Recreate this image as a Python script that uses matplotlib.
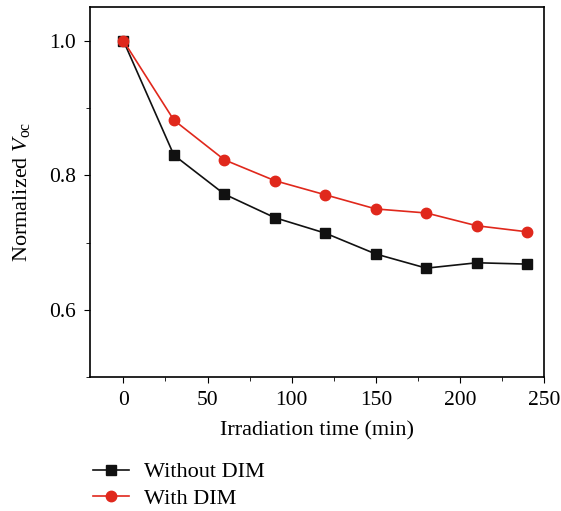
import matplotlib
matplotlib.use('Agg')
import matplotlib.pyplot as plt
from matplotlib.ticker import MultipleLocator

plt.rcParams['font.family'] = 'Liberation Serif'
plt.rcParams['mathtext.fontset'] = 'custom'
plt.rcParams['mathtext.rm'] = 'Liberation Serif'
plt.rcParams['mathtext.it'] = 'Liberation Serif:italic'

# data
time_min = [0, 30, 60, 90, 120, 150, 180, 210, 240]
without_dim = [1.0, 0.830, 0.772, 0.737, 0.714, 0.683, 0.662, 0.670, 0.668]
with_dim = [1.0, 0.882, 0.823, 0.792, 0.771, 0.750, 0.744, 0.725, 0.716]

fig = plt.figure(figsize=(5.61, 5.11), dpi=100)
ax = fig.add_axes([0.160, 0.262, 0.810, 0.724])

ax.plot(time_min, without_dim, '-s', color='#111111', lw=1.2, ms=7,
        label='Without DIM')
ax.plot(time_min, with_dim, '-o', color='#e0281c', lw=1.2, ms=7.5,
        label='With DIM')

ax.set_xlim(-20, 250)
ax.set_ylim(0.5, 1.05)
ax.xaxis.set_major_locator(MultipleLocator(50))
ax.xaxis.set_minor_locator(MultipleLocator(25))
ax.yaxis.set_minor_locator(MultipleLocator(0.1))
ax.set_yticks([0.6, 0.8, 1.0])
ax.yaxis.set_major_formatter(plt.FormatStrFormatter('%.1f'))
ax.tick_params(which='both', direction='out', labelsize=15.5, top=False, right=False)
ax.tick_params(which='major', length=4, pad=6)
ax.tick_params(which='minor', length=3)
for s in ax.spines.values():
    s.set_linewidth(1.2)

ax.set_xlabel('Irradiation time (min)', fontsize=16, labelpad=8)
ax.set_ylabel('Normalized $V_{\\rm oc}$', fontsize=16, labelpad=12)

ax.legend(loc='upper left', bbox_to_anchor=(-0.012, -0.205), frameon=False,
          fontsize=16, handlelength=1.6, handletextpad=0.7, borderaxespad=0,
          labelspacing=0.25)

fig.savefig('out.png', dpi=100)
